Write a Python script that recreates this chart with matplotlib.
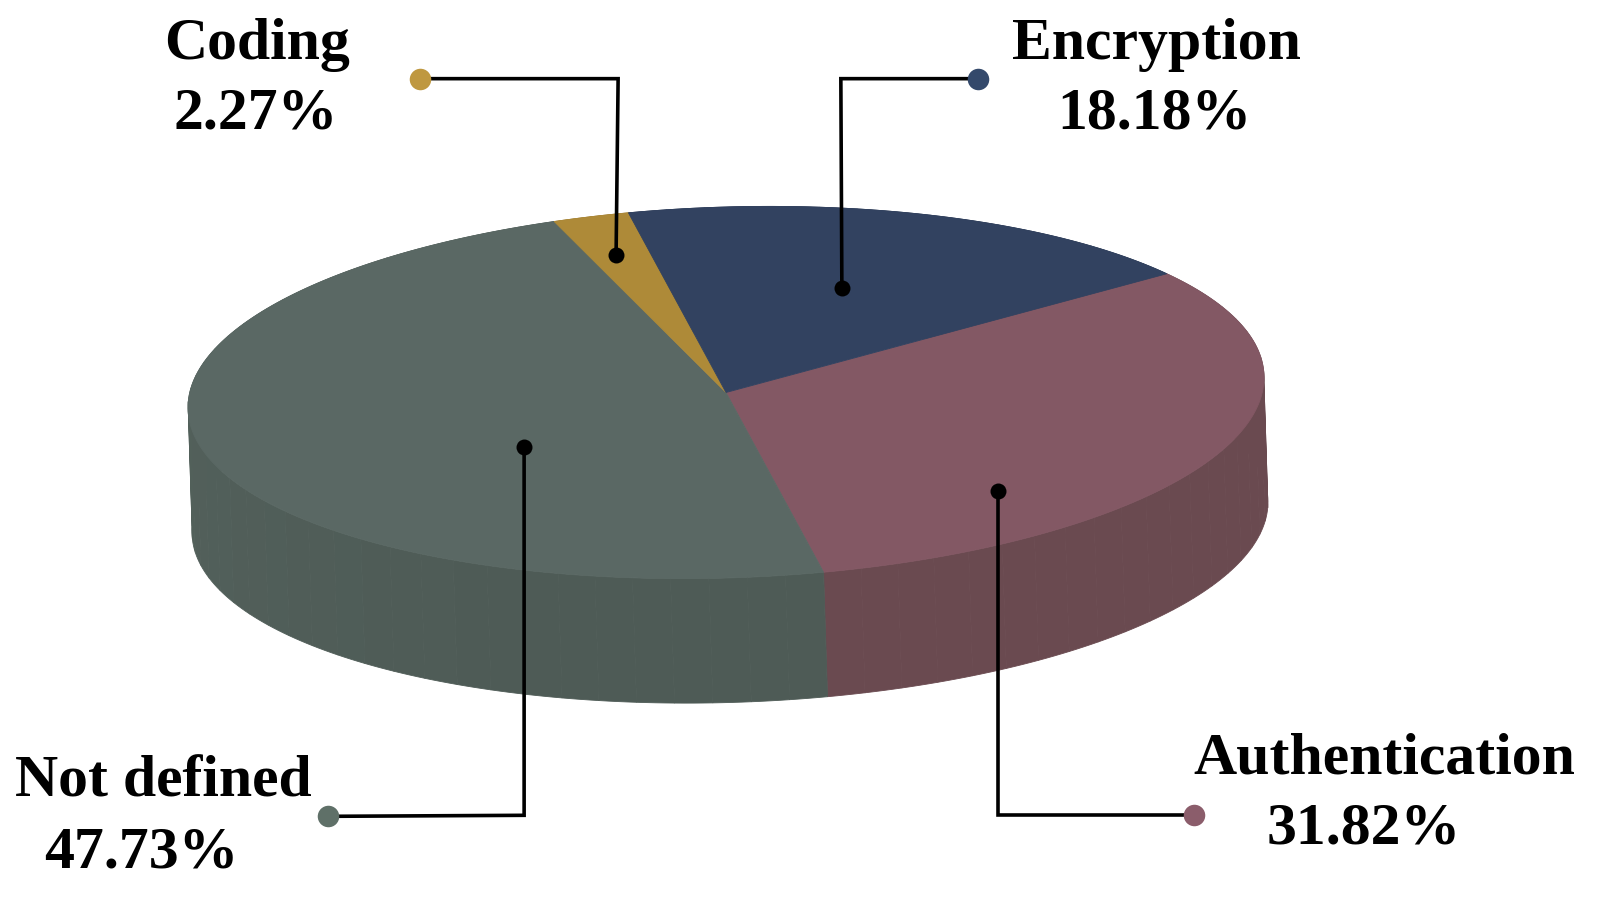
import matplotlib
matplotlib.use('Agg')
import matplotlib.pyplot as plt
import numpy as np

### chart values
labels = ['Authentication', 'Not defined', 'Coding', 'Encryption']
shares = [31.82, 47.73, 2.27, 18.18]
top_colors = ['#835864', '#5a6864', '#ae8a38', '#324260']
side_colors = ['#6a4a50', '#4e5b56', '#8f7230', '#2a3750']
dot_colors = ['#8b5d6b', '#5f7068', '#bf9840', '#34496b']

### layout in pixels of the 1602x899 picture
cx, cy = 726, 392.5
rx, ry = 538, 185.5
tilt = 0.028
depth_x, depth_y = 4, 124.5
start_angle = 35.0

scale = 1602 / 1568
# inner point, elbow, outer dot
leaders = {
	'Authentication': [(977, 481), (977, 798), (1169, 798)],
	'Not defined': [(513, 438), (513, 798), (321, 799)],
	'Coding': [(603, 250), (605, 77), (411, 77)],
	'Encryption': [(824, 282), (823, 77), (957, 77)],
}
# x, baseline of name, x, baseline of percentage
text_pos = {
	'Authentication': (1355, 757, 1335, 826),
	'Not defined': (160, 780, 138, 849),
	'Coding': (252, 58, 250, 126),
	'Encryption': (1132, 58, 1130, 126),
}

def rim(t):
	### point on the top ellipse for angle t in degrees
	t = np.radians(t)
	x = cx + rx * np.cos(t)
	y = cy - ry * np.sin(t) - tilt * rx * np.cos(t)
	return x, y

def shaded(color, t):
	### side gets a little lighter towards the left
	rgb = np.array(matplotlib.colors.to_rgb(color))
	k = 1 + 0.05 * max(0, -np.cos(np.radians(t))) ** 3
	return tuple(np.clip(rgb * k, 0, 1))

fig = plt.figure(figsize=(16.02, 8.99), dpi=100)
ax = fig.add_axes([0, 0, 1, 1])
ax.set_xlim(0, 1602)
ax.set_ylim(899, 0)
ax.axis('off')

### wedges go clockwise from start_angle
t0 = start_angle
for i in range(len(labels)):
	t1 = t0 - shares[i] / 100 * 360
	n = max(int((t0 - t1) / 4), 2)
	edges = np.linspace(t0, t1, n + 1)
	# side facets
	for a, b in zip(edges[:-1], edges[1:]):
		ts = np.linspace(a, b, 5)
		xs, ys = rim(ts)
		px = np.concatenate([xs, xs[::-1] + depth_x])
		py = np.concatenate([ys, ys[::-1] + depth_y])
		c = shaded(side_colors[i], (a + b) / 2)
		ax.fill(px, py, color=c, lw=0.6, zorder=1)
	# top
	ts = np.linspace(t0, t1, 200)
	xs, ys = rim(ts)
	ax.fill(np.r_[cx, xs], np.r_[cy, ys], color=top_colors[i], lw=0.6, zorder=2)
	t0 = t1

### leader lines and labels
for i, name in enumerate(labels):
	pts = np.array(leaders[name]) * scale
	ax.plot(pts[:, 0], pts[:, 1], color='black', lw=2.6, zorder=3, solid_joinstyle='miter')
	ax.plot(pts[0, 0], pts[0, 1], 'o', color='black', ms=11.5, mew=0, zorder=4)
	ax.plot(pts[-1, 0], pts[-1, 1], 'o', color=dot_colors[i], ms=15.5, mew=0, zorder=4)
	nx, ny, vx, vy = text_pos[name]
	ax.text(nx * scale, ny * scale, name, ha='center', va='baseline', family='Liberation Serif',
			weight='bold', fontsize=43, color='black')
	ax.text(vx * scale, vy * scale, '{:.2f}%'.format(shares[i]), ha='center', va='baseline',
			family='Liberation Serif', weight='bold', fontsize=43, color='black')

fig.savefig('out.png', dpi=100, facecolor='white')
